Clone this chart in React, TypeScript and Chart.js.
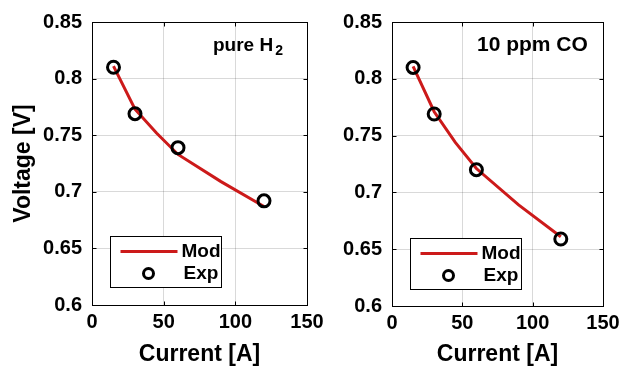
import React, { useEffect, useRef } from 'react';
import { Chart, registerables } from 'chart.js';
Chart.register(...registerables);

// ---- data ----
const xTickValues = [0, 50, 100, 150];
const yTickLabels = ['0.6', '0.65', '0.7', '0.75', '0.8', '0.85'];

const expCurrent = [15, 30, 60, 120];
const expVoltageH2 = [0.81, 0.769, 0.739, 0.692];
const expVoltageCO = [0.81, 0.769, 0.72, 0.659];

const modCurrentH2 = [15, 30, 45, 60, 90, 120];
const modVoltageH2 = [0.811, 0.773, 0.752, 0.733, 0.709, 0.687];
const modCurrentCO = [15, 30, 45, 60, 90, 120];
const modVoltageCO = [0.811, 0.771, 0.744, 0.721, 0.689, 0.661];

const seriesLabels = ['Mod', 'Exp'];
const panelTitles = ['pure H', '10 ppm CO'];

const FONT = '"Liberation Sans", Arial, Helvetica, sans-serif';
const RED = '#cc1a1a';

const matlabPlugin = {
  id: 'matlabBox',
  afterDraw(chart: any, _args: any, opts: any) {
    const { ctx, chartArea: a } = chart;
    const xs = chart.scales.x;
    const ys = chart.scales.y;
    ctx.save();
    ctx.strokeStyle = '#000';
    ctx.lineWidth = 1;
    const L = Math.round(a.left) + 0.5;
    const R = Math.round(a.right) + 0.5;
    const T = Math.round(a.top) + 0.5;
    const B = Math.round(a.bottom) + 0.5;
    const tl = 4;
    ctx.beginPath();
    xs.ticks.forEach((t: any) => {
      const px = Math.round(xs.getPixelForValue(t.value)) + 0.5;
      ctx.moveTo(px, B); ctx.lineTo(px, B - tl);
      ctx.moveTo(px, T); ctx.lineTo(px, T + tl);
    });
    ys.ticks.forEach((t: any) => {
      const py = Math.round(ys.getPixelForValue(t.value)) + 0.5;
      ctx.moveTo(L, py); ctx.lineTo(L + tl, py);
      ctx.moveTo(R, py); ctx.lineTo(R - tl, py);
    });
    ctx.stroke();
    ctx.strokeRect(L, T, R - L, B - T);

    // legend box
    const bx = Math.round(a.left + 18) + 0.5;
    const by = Math.round(opts.legendTop) + 0.5;
    const bw = 111;
    const bh = 51;
    ctx.fillStyle = '#fff';
    ctx.fillRect(bx, by, bw, bh);
    ctx.strokeStyle = '#000';
    ctx.lineWidth = 1;
    ctx.strokeRect(bx, by, bw, bh);
    ctx.strokeStyle = RED;
    ctx.lineWidth = 3;
    ctx.beginPath();
    ctx.moveTo(bx + 10, by + 15);
    ctx.lineTo(bx + 67, by + 15);
    ctx.stroke();
    ctx.strokeStyle = '#000';
    ctx.lineWidth = 3;
    ctx.beginPath();
    ctx.arc(bx + 38, by + 37, 5, 0, Math.PI * 2);
    ctx.stroke();
    ctx.fillStyle = '#000';
    ctx.font = `bold 19px ${FONT}`;
    ctx.textBaseline = 'middle';
    ctx.textAlign = 'left';
    ctx.fillText(seriesLabels[0], bx + 71, by + 15);
    ctx.fillText(seriesLabels[1], bx + 73, by + 37);

    // annotation
    ctx.textBaseline = 'alphabetic';
    ctx.font = `bold ${opts.titleSize}px ${FONT}`;
    const tx = a.right - opts.titleOffset;
    ctx.fillText(opts.title, tx, 51);
    if (opts.sub) {
      const w = ctx.measureText(opts.title).width;
      ctx.font = `bold 14px ${FONT}`;
      ctx.fillText(opts.sub, tx + w + 2, 55);
    }
    ctx.restore();
  },
};

function makeConfig(
  modX: number[], modY: number[], expY: number[], opts: any
) {
  return {
    type: 'scatter',
    data: {
      datasets: [
        {
          label: seriesLabels[1],
          data: expCurrent.map((x, i) => ({ x, y: expY[i] })),
          showLine: false,
          pointRadius: 6,
          pointBorderWidth: 3,
          pointBorderColor: '#000',
          pointBackgroundColor: 'rgba(0,0,0,0)',
        },
        {
          label: seriesLabels[0],
          data: modX.map((x, i) => ({ x, y: modY[i] })),
          showLine: true,
          borderColor: RED,
          borderWidth: 3,
          pointRadius: 0,
          tension: 0,
        },
      ],
    },
    options: {
      responsive: false,
      animation: false,
      events: [],
      layout: { padding: { top: opts.top, right: opts.right, left: 0, bottom: 0 } },
      plugins: {
        legend: { display: false },
        tooltip: { enabled: false },
        matlabBox: opts.plugin,
      },
      scales: {
        x: {
          type: 'linear',
          min: xTickValues[0],
          max: xTickValues[xTickValues.length - 1],
          afterBuildTicks: (s: any) => { s.ticks = xTickValues.map((v) => ({ value: v })); },
          afterFit: (s: any) => { s.height = opts.xHeight; },
          grid: { color: 'rgba(0,0,0,0.15)', drawTicks: false },
          border: { display: false },
          ticks: {
            color: '#000',
            padding: 5,
            maxRotation: 0,
            font: { family: FONT, size: 20, weight: 'bold' },
          },
          title: {
            display: true,
            text: 'Current [A]',
            color: '#000',
            padding: { top: 0, bottom: 3 },
            font: { family: FONT, size: 23, weight: 'bold' },
          },
        },
        y: {
          type: 'linear',
          min: 0.6,
          max: 0.85,
          afterBuildTicks: (s: any) => {
            s.ticks = yTickLabels.map((l) => ({ value: parseFloat(l) }));
          },
          afterFit: (s: any) => { s.width = opts.yWidth; },
          grid: { color: 'rgba(0,0,0,0.15)', drawTicks: false },
          border: { display: false },
          ticks: {
            color: '#000',
            padding: 10,
            font: { family: FONT, size: 20, weight: 'bold' },
            callback: (v: any) => {
              const idx = yTickLabels.findIndex((l) => Math.abs(parseFloat(l) - v) < 1e-6);
              return idx >= 0 ? yTickLabels[idx] : '';
            },
          },
          title: {
            display: opts.yTitle,
            text: 'Voltage [V]',
            color: '#000',
            padding: { top: 10, bottom: 0 },
            font: { family: FONT, size: 23, weight: 'bold' },
          },
        },
      },
    },
    plugins: [matlabPlugin],
  } as any;
}

function Panel(props: { cfg: any; left: number; width: number }) {
  const ref = useRef<HTMLCanvasElement>(null);
  useEffect(() => {
    const chart = new Chart(ref.current as HTMLCanvasElement, props.cfg);
    return () => chart.destroy();
  }, []);
  return (
    <canvas
      ref={ref}
      width={props.width}
      height={371}
      style={{ position: 'absolute', left: props.left, top: 0, width: props.width, height: 371 }}
    />
  );
}

export default function App() {
  const leftCfg = makeConfig(modCurrentH2, modVoltageH2, expVoltageH2, {
    top: 15, right: 33, xHeight: 66, yWidth: 92, yTitle: true,
    plugin: { legendTop: 236, title: panelTitles[0], sub: '2', titleSize: 19, titleOffset: 94 },
  });
  const rightCfg = makeConfig(modCurrentCO, modVoltageCO, expVoltageCO, {
    top: 16, right: 28, xHeight: 65, yWidth: 70, yTitle: false,
    plugin: { legendTop: 238, title: panelTitles[1], sub: '', titleSize: 21, titleOffset: 126 },
  });
  return (
    <div style={{ position: 'fixed', left: 0, top: 0, width: 631, height: 371, background: '#fff' }}>
      <Panel cfg={leftCfg} left={0} width={340} />
      <Panel cfg={rightCfg} left={322} width={309} />
    </div>
  );
}
